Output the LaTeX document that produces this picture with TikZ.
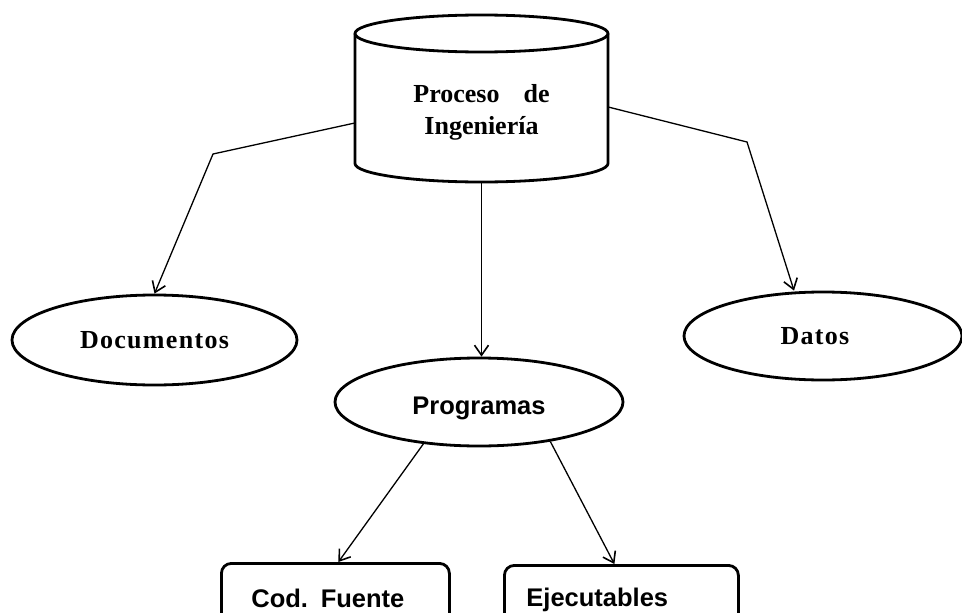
\documentclass[tikz,border=0pt]{standalone}
\usepackage{fontspec}
\setmainfont{Liberation Serif}
\setsansfont{Liberation Sans}
\newfontfamily\spacedserif[LetterSpace=5]{Liberation Serif}
\usetikzlibrary{shapes.geometric,arrows.meta}
\begin{document}
\begin{tikzpicture}[x=1pt,y=-1pt,
  outline/.style={line width=2.8pt, line join=round},
  oval/.style={ellipse, draw, outline, inner sep=0pt},
  serifbig/.style={font=\fontsize{26}{32}\selectfont\bfseries},
  spacedbig/.style={font=\spacedserif\fontsize{26}{32}\selectfont\bfseries},
  sansbig/.style={font=\sffamily\bfseries\fontsize{25.5}{30}\selectfont},
  leafbox/.style={draw, outline, rounded corners=10pt, align=left,
    minimum height=70pt, anchor=north west, sansbig},
  conn/.style={line width=1.3pt,
    -{Straight Barb[length=10pt,width=14pt,line width=1.6pt]}}
]
\useasboundingbox (0,0) rectangle (962,613);
\clip (0,0) rectangle (962,613);

% engineering process store (cylinder)
\node[serifbig, align=center, minimum width=253pt, minimum height=142pt,
  inner sep=0pt] (cyl) at (481.5,112) {Proceso\hspace{24pt}de\\Ingeniería};
\draw[outline] (481.5,33.5) ellipse [x radius=126.5pt, y radius=18.5pt];
\draw[outline] (355,33.5) -- (355,163.5)
  arc[start angle=180, end angle=360, x radius=126.5pt, y radius=18.5pt]
  -- (608,33.5);

% products
\node[oval, spacedbig, minimum width=285pt, minimum height=90pt] (doc) at (154.5,340) {Documentos};
\node[oval, spacedbig, minimum width=278pt, minimum height=88pt] (dat) at (823,336) {Datos\hspace*{16pt}};
\node[oval, sansbig, minimum width=288pt, minimum height=88pt] (prog) at (479,402)
  {\raisebox{-6pt}[\height][\depth]{Programas}};

% kinds of programs
\node[leafbox, inner xsep=30pt, text width=168pt, minimum width=228pt] (src) at (220,562) {Cod. Fuente};
\node[leafbox, inner xsep=22pt, text width=190pt, minimum width=234pt] (exe) at (503,564) {Ejecutables};

% connectors
\draw[conn] ([yshift=-11pt]cyl.west) -- (213,154) -- (doc.north);
\draw[conn] ([yshift=5pt]cyl.east) -- (747,142) -- ([xshift=-29pt]dat.north);
\draw[conn] (cyl.south) -- (cyl.south |- prog.north);
\draw[conn] (prog.217) -- ([xshift=3pt]src.north);
\draw[conn] (prog.-29) -- ([xshift=-7pt]exe.north);
\end{tikzpicture}
\end{document}
